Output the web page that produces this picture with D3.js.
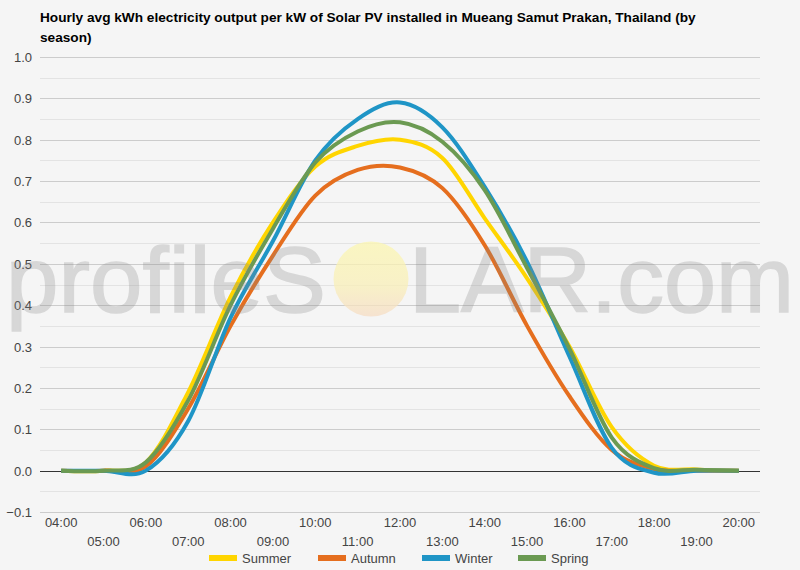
<!DOCTYPE html>
<html>
<head>
<meta charset="utf-8">
<script src="https://cdn.jsdelivr.net/npm/d3@7"></script>
<style>
  body { margin: 0; background: #f5f5f5; }
  svg { display: block; font-family: Arial, "Liberation Sans", sans-serif; }
</style>
</head>
<body>
<svg width="800" height="570"></svg>
<script>
"use strict";

// hourly categories
const hours = ["04:00","05:00","06:00","07:00","08:00","09:00","10:00","11:00","12:00",
               "13:00","14:00","15:00","16:00","17:00","18:00","19:00","20:00"];

// kWh per kW
const summer = [0, 0, 0.02, 0.19, 0.42, 0.60, 0.735, 0.785, 0.80, 0.756, 0.61, 0.465, 0.30, 0.105, 0.012, 0.003, 0];
const autumn = [0, 0, 0.01, 0.15, 0.35, 0.52, 0.665, 0.727, 0.733, 0.683, 0.545, 0.35, 0.18, 0.05, 0.004, 0, 0];
const winter = [0, 0, 0.0, 0.12, 0.37, 0.555, 0.75, 0.85, 0.89, 0.83, 0.686, 0.505, 0.276, 0.055, -0.005, 0, 0];
const spring = [0, 0, 0.02, 0.17, 0.40, 0.585, 0.745, 0.82, 0.842, 0.795, 0.678, 0.49, 0.295, 0.08, 0.006, 0.002, 0];

const seriesNames = ["Summer", "Autumn", "Winter", "Spring"];
const seriesValues = [summer, autumn, winter, spring];
const colors = ["#ffd500", "#e56e1e", "#1f95c6", "#6b9a52"];

const yTicks = [-0.1, 0, 0.1, 0.2, 0.3, 0.4, 0.5, 0.6, 0.7, 0.8, 0.9, 1.0];

const titleLines = ["Hourly avg kWh electricity output per kW of Solar PV installed in Mueang Samut Prakan, Thailand (by",
                    "season)"];

var svg = d3.select("svg"),
    width = +svg.attr("width"),
    height = +svg.attr("height");

var plotLeft = 40, plotRight = 760, plotTop = 57, plotBottom = 512;

var x = d3.scaleBand().domain(hours).range([plotLeft, plotRight]);
var y = d3.scaleLinear().domain([-0.1, 1.0]).range([plotBottom, plotTop]);
var xc = function(h) { return x(h) + x.bandwidth() / 2; };

svg.append("rect").attr("width", width).attr("height", height).attr("fill", "#f5f5f5");

// title
svg.append("g").selectAll("text")
    .data(titleLines)
    .enter().append("text")
    .attr("x", 40)
    .attr("y", function(d, i) { return 22 + i * 20; })
    .attr("font-size", 13.65)
    .attr("font-weight", "bold")
    .attr("fill", "#000")
    .text(function(d) { return d; });

// minor gridlines
var minor = d3.range(-0.05, 1.0, 0.1);
svg.append("g").selectAll("line")
    .data(minor)
    .enter().append("line")
    .attr("x1", plotLeft).attr("x2", plotRight)
    .attr("y1", function(d) { return Math.round(y(d)) + 0.5; })
    .attr("y2", function(d) { return Math.round(y(d)) + 0.5; })
    .attr("stroke", "#e3e3e3");

// major gridlines + y axis labels
var yAxis = svg.append("g");
yAxis.selectAll("line")
    .data(yTicks)
    .enter().append("line")
    .attr("x1", plotLeft).attr("x2", plotRight)
    .attr("y1", function(d) { return Math.round(y(d)) + 0.5; })
    .attr("y2", function(d) { return Math.round(y(d)) + 0.5; })
    .attr("stroke", function(d) { return d === 0 ? "#333" : "#cccccc"; });

yAxis.selectAll("text")
    .data(yTicks)
    .enter().append("text")
    .attr("x", 32)
    .attr("y", function(d) { return y(d) + 5; })
    .attr("text-anchor", "end")
    .attr("font-size", 13)
    .attr("fill", "#444")
    .text(function(d) { return d3.format(".1f")(d); });

// x labels, two staggered rows
svg.append("g").selectAll("text")
    .data(hours)
    .enter().append("text")
    .attr("x", function(d) { return xc(d); })
    .attr("y", function(d, i) { return i % 2 === 0 ? 527 : 546; })
    .attr("text-anchor", "middle")
    .attr("font-size", 13)
    .attr("fill", "#444")
    .text(function(d) { return d; });

// lines
var line = d3.line()
    .x(function(d, i) { return xc(hours[i]); })
    .y(function(d) { return y(d); })
    .curve(d3.curveCatmullRom.alpha(0));

svg.append("g").selectAll("path")
    .data(seriesValues)
    .enter().append("path")
    .attr("d", line)
    .attr("fill", "none")
    .attr("stroke", function(d, i) { return colors[i]; })
    .attr("stroke-width", 4)
    .attr("stroke-linejoin", "round");

// watermark, semi transparent, drawn over the chart
var defs = svg.append("defs");
var sunGrad = defs.append("linearGradient")
    .attr("id", "sun").attr("x1", 0).attr("y1", 0).attr("x2", 0).attr("y2", 1);
sunGrad.append("stop").attr("offset", "0%").attr("stop-color", "#fbf6b0");
sunGrad.append("stop").attr("offset", "60%").attr("stop-color", "#f9efb8");
sunGrad.append("stop").attr("offset", "100%").attr("stop-color", "#f6dcc4");
svg.append("circle").attr("cx", 371).attr("cy", 279).attr("r", 37.5)
    .attr("fill", "url(#sun)").attr("opacity", 0.75);

var wm = svg.append("g").attr("opacity", 0.27)
    .attr("fill", "#888").attr("stroke", "#888").attr("stroke-width", 1.5);
wm.append("text").attr("x", 6).attr("y", 312)
    .attr("font-size", 92)
    .attr("textLength", 320).attr("lengthAdjust", "spacingAndGlyphs")
    .text("profileS");
wm.append("text").attr("x", 409).attr("y", 312)
    .attr("font-size", 92)
    .attr("textLength", 385).attr("lengthAdjust", "spacingAndGlyphs")
    .text("LAR.com");

// legend
var legendX = [209, 318, 422, 518];
var legend = svg.append("g").selectAll("g")
    .data(seriesNames)
    .enter().append("g")
    .attr("transform", function(d, i) { return "translate(" + legendX[i] + ",558)"; });
legend.append("rect")
    .attr("x", 0).attr("y", -3).attr("width", 28).attr("height", 6)
    .attr("fill", function(d, i) { return colors[i]; });
legend.append("text")
    .attr("x", 33).attr("y", 5)
    .attr("font-size", 13)
    .attr("fill", "#444")
    .text(function(d) { return d; });
</script>
</body>
</html>
